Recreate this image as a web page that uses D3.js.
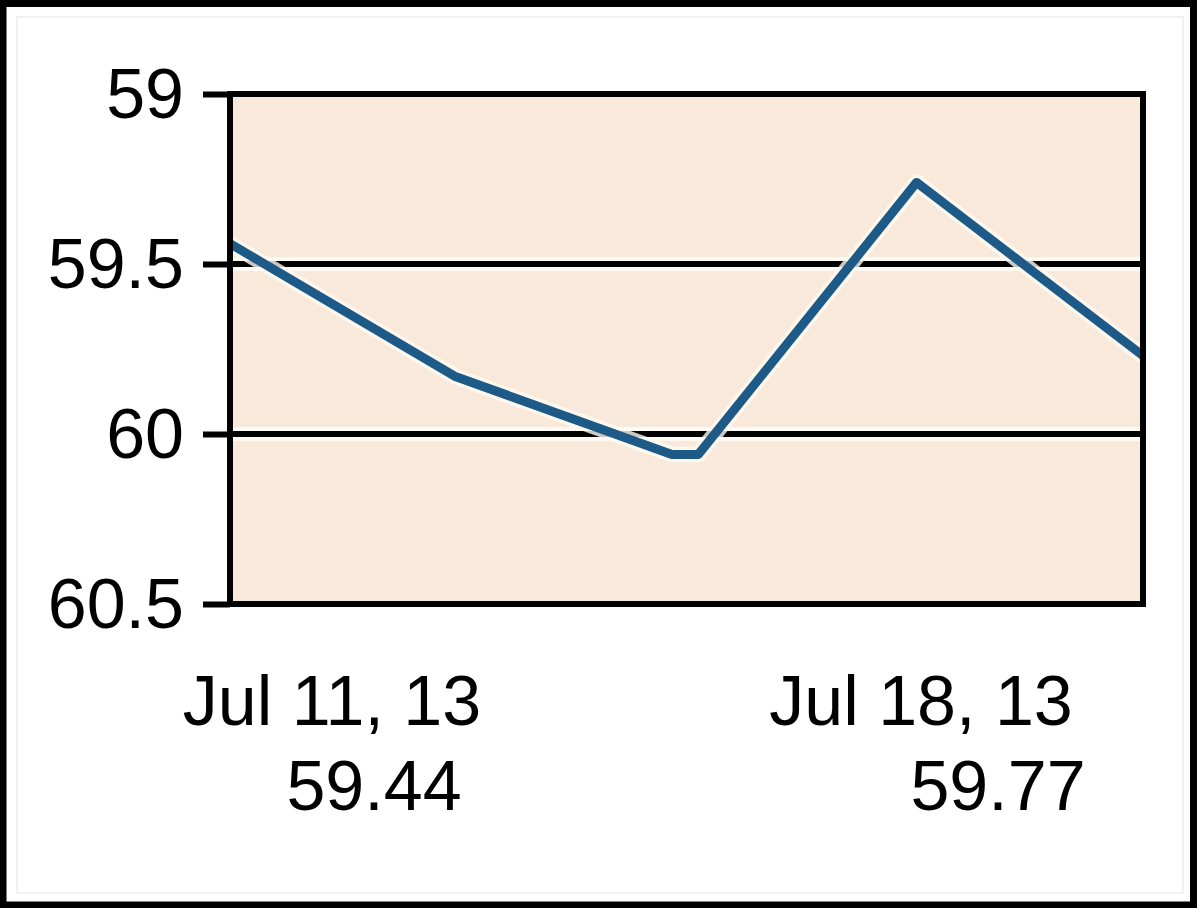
<!DOCTYPE html>
<html>
<head>
<meta charset="utf-8">
<script src="https://cdn.jsdelivr.net/npm/d3@7"></script>
<style>
  html, body { margin: 0; padding: 0; background: #ffffff; }
  svg { display: block; }
  text { font-family: "Liberation Sans", Arial, sans-serif; fill: #000; }
</style>
</head>
<body>
<script>
// ---- data ----
const samplePositions = [0, 0.246, 0.484, 0.513, 0.752, 1];   // relative time within Jul 11 – Jul 18
const seriesValues    = [59.44, 59.83, 60.06, 60.06, 59.26, 59.77];
const yTickValues     = [59, 59.5, 60, 60.5];
const yTickLabels     = ["59", "59.5", "60", "60.5"];
const gridValues      = [59.5, 60];
const startLabel      = ["Jul 11, 13", "59.44"];
const endLabel        = ["Jul 18, 13", "59.77"];

// ---- layout ----
const W = 1200, H = 908;
const plot = { left: 230, right: 1143, top: 94, bottom: 604 };

const svg = d3.select("body").append("svg").attr("width", W).attr("height", H);

svg.append("rect").attr("width", W).attr("height", H).attr("fill", "#fff");
// outer frame
svg.append("rect").attr("x", 3).attr("y", 3.5).attr("width", 1190.5).attr("height", 901.5)
  .attr("fill", "none").attr("stroke", "#000").attr("stroke-width", 7);
svg.append("rect").attr("x", 17).attr("y", 17).attr("width", 1166).attr("height", 876)
  .attr("fill", "none").attr("stroke", "#f1f1f1").attr("stroke-width", 2);

const x = d3.scaleLinear().domain([0, 1]).range([plot.left, plot.right]);
const y = d3.scaleLinear().domain([59, 60.5]).range([plot.top, plot.bottom]);

// plot background
svg.append("rect")
  .attr("x", plot.left).attr("y", plot.top)
  .attr("width", plot.right - plot.left).attr("height", plot.bottom - plot.top)
  .attr("fill", "#f9e9db");

// gridlines with light halo
const grid = svg.append("g");
grid.selectAll("line.halo").data(gridValues).join("line").attr("class", "halo")
  .attr("x1", plot.left).attr("x2", plot.right)
  .attr("y1", d => y(d)).attr("y2", d => y(d))
  .attr("stroke", "#fffaf3").attr("stroke-width", 14);
grid.selectAll("line.g").data(gridValues).join("line").attr("class", "g")
  .attr("x1", plot.left).attr("x2", plot.right)
  .attr("y1", d => y(d)).attr("y2", d => y(d))
  .attr("stroke", "#000").attr("stroke-width", 6);

// y axis ticks via d3 axis
const yAxis = d3.axisLeft(y).tickValues(yTickValues)
  .tickFormat((d, i) => yTickLabels[i]).tickSize(27).tickPadding(19);
const ax = svg.append("g").attr("transform", `translate(${plot.left},0)`).call(yAxis);
ax.select(".domain").remove();
ax.selectAll(".tick line").attr("stroke", "#000").attr("stroke-width", 6);
ax.selectAll(".tick text")
  .attr("font-size", 70).attr("dy", null).attr("y", 23)
  .attr("font-family", "Liberation Sans, Arial, sans-serif").attr("fill", "#000");

// data line with halo
const pts = samplePositions.map((p, i) => [p, seriesValues[i]]);
const line = d3.line().x(d => x(d[0])).y(d => y(d[1]));
svg.append("path").datum(pts).attr("d", line)
  .attr("fill", "none").attr("stroke", "#fffaf3").attr("stroke-width", 16)
  .attr("stroke-linejoin", "round").attr("opacity", 0.8);
svg.append("path").datum(pts).attr("d", line)
  .attr("fill", "none").attr("stroke", "#1d5a87").attr("stroke-width", 9)
  .attr("stroke-linejoin", "round");

// plot frame
svg.append("rect")
  .attr("x", plot.left).attr("y", plot.top)
  .attr("width", plot.right - plot.left).attr("height", plot.bottom - plot.top)
  .attr("fill", "none").attr("stroke", "#000").attr("stroke-width", 6);

// bottom labels (first/last date and value)
const labels = [
  { t: startLabel[0], cx: 332, by: 725 },
  { t: startLabel[1], cx: 374, by: 810 },
  { t: endLabel[0],   cx: 921, by: 725 },
  { t: endLabel[1],   cx: 998, by: 810 }
];
svg.selectAll("text.lab").data(labels).join("text").attr("class", "lab")
  .attr("x", d => d.cx).attr("y", d => d.by)
  .attr("text-anchor", "middle").attr("font-size", 70)
  .text(d => d.t);
</script>
</body>
</html>
